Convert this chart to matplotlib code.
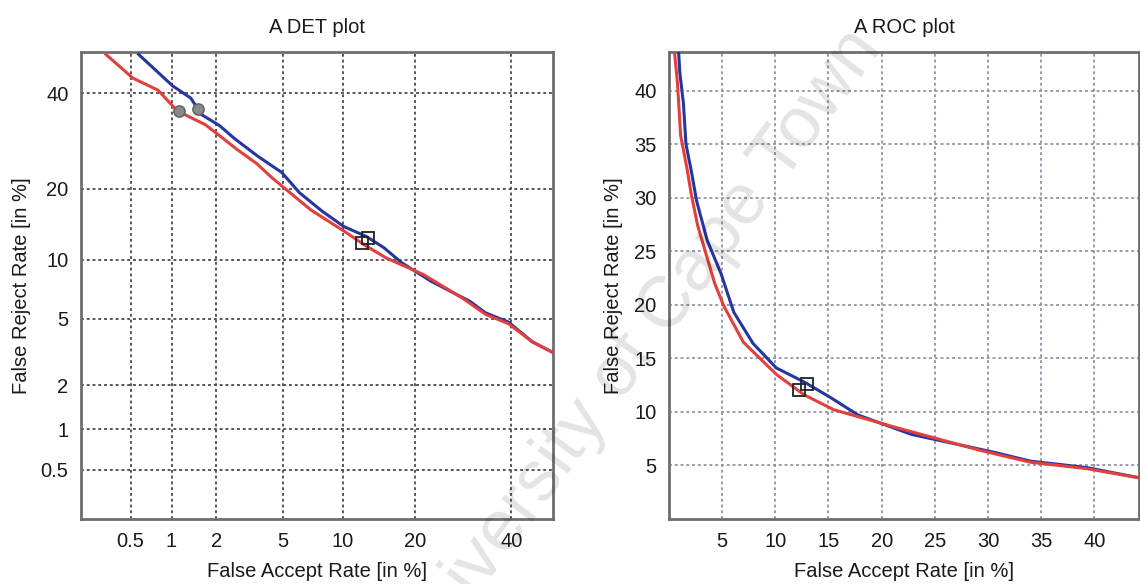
import math
import numpy as np
import matplotlib
matplotlib.use('Agg')
import matplotlib.pyplot as plt
from matplotlib.ticker import FixedLocator, FixedFormatter, NullLocator

plt.rcParams['font.family'] = ['Liberation Sans', 'DejaVu Sans']

# curves: FAR and FRR in %
blue_far = [0.575, 1.02, 1.36, 1.6, 2.10, 2.6, 3.6, 4.9, 6.1, 7.9, 10.1, 12.7, 15.1, 17.8, 22.8, 30.7, 34.0, 39.3, 45.0, 50.0]
blue_frr = [49.4, 41.7, 38.8, 35.0, 32.5, 29.7, 26.0, 22.9, 19.3, 16.4, 14.1, 12.8, 11.4, 9.7, 7.9, 6.2, 5.4, 4.8, 3.7, 3.2]
red_far = [0.32, 0.52, 0.80, 1.10, 1.70, 2.10, 2.7, 3.53, 4.3, 5.15, 7.0, 10.1, 12.7, 15.5, 21.5, 29.3, 34.0, 39.3, 45.0, 50.0]
red_frr = [49.4, 43.6, 40.7, 35.8, 32.7, 30.3, 27.4, 24.6, 22.0, 19.9, 16.5, 13.5, 11.6, 10.2, 8.5, 6.4, 5.3, 4.7, 3.7, 3.2]

circle_far = [1.12, 1.53]
circle_frr = [35.9, 36.3]
square_far = [12.2, 13.0]
square_frr = [12.0, 12.6]

det_ticks = [0.5, 1, 2, 5, 10, 20, 40]
det_labels = ['0.5', '1', '2', '5', '10', '20', '40']
roc_ticks = [5, 10, 15, 20, 25, 30, 35, 40]

BLUE = '#2536a0'
RED = '#e2403c'
FS = 14.5


_erf = np.vectorize(math.erf, otypes=[float])

def _cdf(z):
    return 0.5 * (1 + _erf(np.asarray(z, dtype=float) / math.sqrt(2)))

def _ppf(p):
    p = np.clip(np.asarray(p, dtype=float), 1e-9, 1 - 1e-9)
    lo = np.full(p.shape, -8.0)
    hi = np.full(p.shape, 8.0)
    for _ in range(50):
        mid = (lo + hi) / 2
        below = _cdf(mid) < p
        lo = np.where(below, mid, lo)
        hi = np.where(below, hi, mid)
    return (lo + hi) / 2

def probit_fwd(x):
    return _ppf(np.asarray(x, dtype=float) / 100.0)

def probit_inv(z):
    return 100.0 * _cdf(z)


def style_axes(ax, gridcolor):
    for s in ax.spines.values():
        s.set_color('#6e6e6e')
        s.set_linewidth(2.0)
    ax.grid(True, color=gridcolor, linestyle=(0, (1.6, 1.6)), linewidth=1.3)
    ax.tick_params(length=0, labelsize=FS, colors='#1a1a1a')
    ax.set_axisbelow(True)


fig = plt.figure(figsize=(11.4, 5.84), dpi=100)

# DET plot
ax1 = fig.add_axes([0.0711, 0.1113, 0.414, 0.7997])
ax1.set_xscale('function', functions=(probit_fwd, probit_inv))
ax1.set_yscale('function', functions=(probit_fwd, probit_inv))
ax1.plot(blue_far, blue_frr, color=BLUE, lw=2.2, zorder=3)
ax1.plot(red_far, red_frr, color=RED, lw=2.2, zorder=4)
ax1.plot(circle_far, circle_frr, 'o', ms=8, mfc='#8a8a8a', mec='#666666', mew=1.2, zorder=5)
ax1.plot(square_far, square_frr, 's', ms=8, mfc='none', mec='#222222', mew=1.3, zorder=5)
ax1.set_xlim(0.2, 50)
ax1.set_ylim(0.2, 50)
for axis in (ax1.xaxis, ax1.yaxis):
    axis.set_major_locator(FixedLocator(det_ticks))
    axis.set_major_formatter(FixedFormatter(det_labels))
    axis.set_minor_locator(NullLocator())
style_axes(ax1, '#4a4a4a')
ax1.tick_params(axis='x', pad=9)
ax1.tick_params(axis='y', pad=9)
ax1.set_title('A DET plot', fontsize=FS, color='#1a1a1a', pad=14)
ax1.set_xlabel('False Accept Rate [in %]', fontsize=FS, color='#1a1a1a', labelpad=8)
ax1.set_ylabel('False Reject Rate [in %]', fontsize=FS, color='#1a1a1a', labelpad=7)

# ROC plot
ax2 = fig.add_axes([0.5868, 0.1113, 0.4123, 0.7997])
ax2.plot(blue_far, blue_frr, color=BLUE, lw=2.2, zorder=3)
ax2.plot(red_far, red_frr, color=RED, lw=2.2, zorder=4)
ax2.plot(square_far, square_frr, 's', ms=8, mfc='none', mec='#222222', mew=1.3, zorder=5)
ax2.set_xlim(0, 44.2)
ax2.set_ylim(0, 43.6)
ax2.set_xticks(roc_ticks)
ax2.set_yticks(roc_ticks)
style_axes(ax2, '#8e94a6')
ax2.tick_params(axis='x', pad=9)
ax2.tick_params(axis='y', pad=9)
ax2.set_title('A ROC plot', fontsize=FS, color='#1a1a1a', pad=14)
ax2.set_xlabel('False Accept Rate [in %]', fontsize=FS, color='#1a1a1a', labelpad=8)
ax2.set_ylabel('False Reject Rate [in %]', fontsize=FS, color='#1a1a1a', labelpad=8)

# scanned watermark
fig.text(0.558, 0.40, 'University of Cape Town', fontsize=52, color='#000000', alpha=0.11,
         rotation=53.5, ha='center', va='center', zorder=10)

fig.savefig('out.png', dpi=100)
